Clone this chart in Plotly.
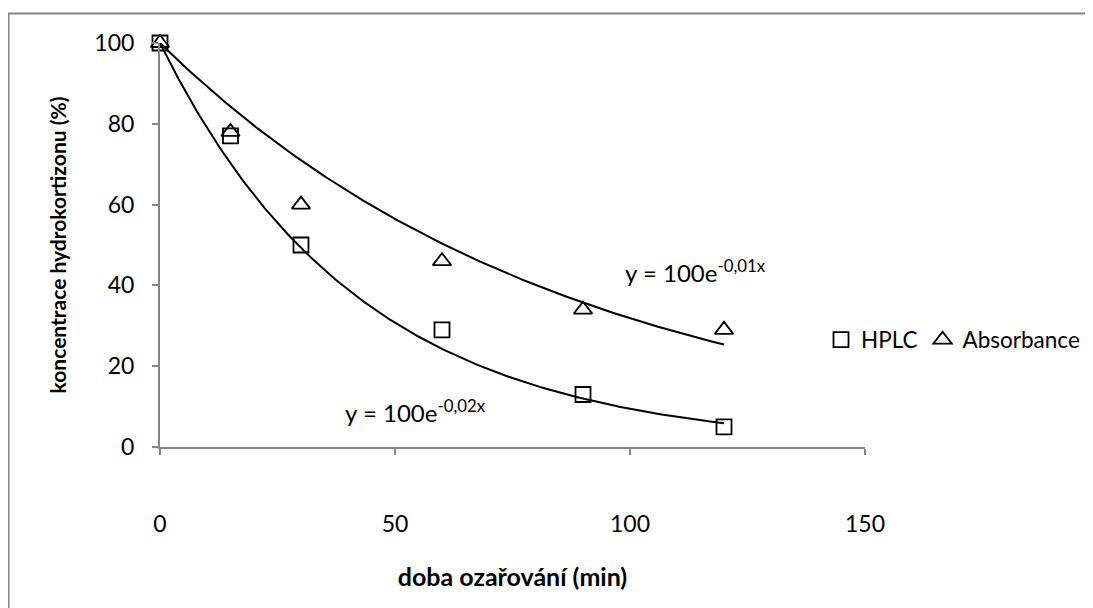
import numpy as np
import plotly.graph_objects as go

time_min = [0, 15, 30, 60, 90, 120]
hplc = [100, 77, 50, 29, 13, 5]
absorbance = [100, 78, 60, 46, 34, 29]
x_ticks = [0, 50, 100, 150]
y_ticks = [0, 20, 40, 60, 80, 100]
eq_hplc = "y = 100e<sup>-0,02x</sup>"
eq_abs = "y = 100e<sup>-0,01x</sup>"

FONT = "Lato, 'Open Sans', sans-serif"

def fit_k(x, y):
    x = np.array(x, float)
    y = np.array(y, float)
    return -np.sum(x * np.log(y / 100.0)) / np.sum(x * x)

xs = np.linspace(0, max(time_min), 200)
k_h = fit_k(time_min, hplc)
k_a = fit_k(time_min, absorbance)

OFF = 8  # page body margin
W, H = 1093 - OFF, 608 - OFF
L, R, T, B = 152, 228, 35, 161
pw, ph = W - L - R, H - T - B

fig = go.Figure()
fig.add_trace(go.Scatter(x=xs, y=100 * np.exp(-k_h * xs), mode="lines",
                         line=dict(color="black", width=2), showlegend=False, hoverinfo="skip"))
fig.add_trace(go.Scatter(x=xs, y=100 * np.exp(-k_a * xs), mode="lines",
                         line=dict(color="black", width=2), showlegend=False, hoverinfo="skip"))
fig.add_trace(go.Scatter(x=time_min, y=hplc, mode="markers", name="HPLC", cliponaxis=False,
                         marker=dict(symbol="square-open", size=15, color="black",
                                     line=dict(width=1.8, color="black"))))
fig.add_trace(go.Scatter(x=time_min, y=absorbance, mode="markers", name="Absorbance", cliponaxis=False,
                         marker=dict(symbol="triangle-up-open", size=16, color="black",
                                     line=dict(width=1.8, color="black"))))

def px_x(p):
    return (p - OFF - L) / pw

def px_y(p):
    return (H - B - (p - OFF)) / ph

fig.add_shape(type="line", xref="paper", yref="paper",
              x0=px_x(8), x1=px_x(1100), y0=px_y(13.5), y1=px_y(13.5),
              line=dict(color="#868686", width=2))
fig.add_shape(type="line", xref="paper", yref="paper",
              x0=px_x(8.5), x1=px_x(8.5), y0=px_y(13.5), y1=px_y(615),
              line=dict(color="#868686", width=2))

fig.add_annotation(x=px_x(623), y=px_y(271), xref="paper", yref="paper",
                   text=eq_abs, showarrow=False, xanchor="left", yanchor="middle",
                   font=dict(family=FONT, size=24, color="black"))
fig.add_annotation(x=px_x(343), y=px_y(411), xref="paper", yref="paper",
                   text=eq_hplc, showarrow=False, xanchor="left", yanchor="middle",
                   font=dict(family=FONT, size=24, color="black"))

fig.update_layout(
    width=W, height=H,
    margin=dict(l=L, r=R, t=T, b=B, autoexpand=False),
    paper_bgcolor="white", plot_bgcolor="white",
    font=dict(family=FONT, size=22, color="black"),
    legend=dict(orientation="h", x=px_x(821), y=px_y(340), xanchor="left", yanchor="middle",
                font=dict(family=FONT, size=22.5, color="black"),
                itemwidth=30, tracegroupgap=0, bgcolor="rgba(0,0,0,0)"),
    xaxis=dict(range=[0, 150], tickvals=x_ticks, showgrid=False, zeroline=False,
               showline=True, linecolor="#868686", linewidth=2,
               ticks="outside", ticklen=6, tickcolor="#868686", tickwidth=2,
               ticklabelstandoff=49, tickfont=dict(size=23),
               title=dict(text="<b>doba ozařování (min)</b>", standoff=33,
                          font=dict(family=FONT, size=25))),
    yaxis=dict(range=[0, 100], tickvals=y_ticks, showgrid=False, zeroline=False,
               showline=True, linecolor="#868686", linewidth=2,
               ticks="outside", ticklen=6, tickcolor="#868686", tickwidth=2,
               ticklabelstandoff=13, tickfont=dict(size=23),
               title=dict(text="<b>koncentrace hydrokortizonu (%)</b>", standoff=22,
                          font=dict(family=FONT, size=21))),
)

fig.write_html("out.html")
